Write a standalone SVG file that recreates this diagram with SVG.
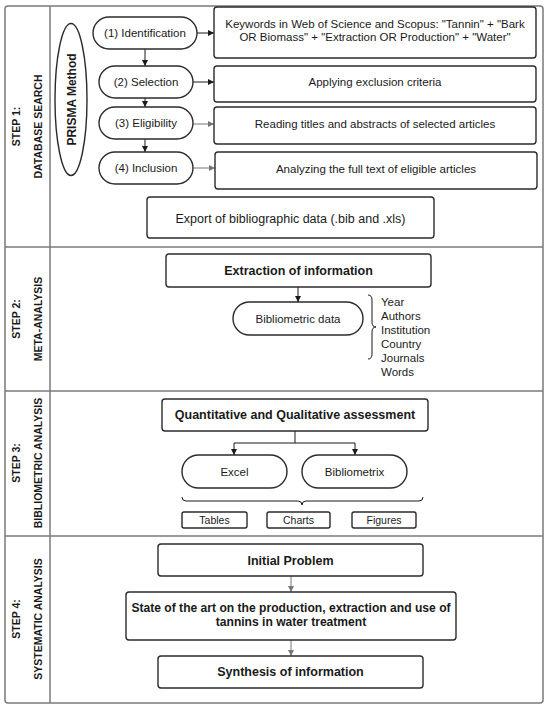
<svg xmlns="http://www.w3.org/2000/svg" width="550" height="710" viewBox="0 0 550 710">
<defs>
<style>
.frame{fill:none;stroke:#7a7a7a;stroke-width:1.5}
.box{fill:#fff;stroke:#2b2b2b;stroke-width:1.4}
.t{font-family:"Liberation Sans",Arial,sans-serif;font-size:11.5px;fill:#1a1a1a;text-anchor:middle}
.tl{font-family:"Liberation Sans",Arial,sans-serif;font-size:11.5px;fill:#1a1a1a}
.tb{font-family:"Liberation Sans",Arial,sans-serif;font-size:12.5px;font-weight:bold;fill:#1a1a1a;text-anchor:middle}
.ts{font-family:"Liberation Sans",Arial,sans-serif;font-size:10.5px;fill:#1a1a1a;text-anchor:middle}
.lab{font-family:"Liberation Sans",Arial,sans-serif;font-size:10.5px;font-weight:bold;fill:#1a1a1a;text-anchor:middle}
.c{fill:none;stroke:#1a1a1a;stroke-width:1}
.g{fill:none;stroke:#777;stroke-width:1}
</style>
<marker id="ab" markerWidth="6" markerHeight="6" refX="6" refY="3" orient="auto" markerUnits="userSpaceOnUse"><path d="M0,0 L6,3 L0,6 Z" fill="#1a1a1a"/></marker>
<marker id="ag" markerWidth="6" markerHeight="6" refX="6" refY="3" orient="auto" markerUnits="userSpaceOnUse"><path d="M0,0 L6,3 L0,6 Z" fill="#777"/></marker>
</defs>
<rect width="550" height="710" fill="#fff"/>
<g id="frame">
<rect class="frame" x="5" y="6" width="538" height="697" rx="3"/>
<line class="frame" x1="50" y1="6" x2="50" y2="703"/>
<line class="frame" x1="5" y1="247" x2="543" y2="247"/>
<line class="frame" x1="5" y1="391" x2="543" y2="391"/>
<line class="frame" x1="5" y1="536" x2="543" y2="536"/>
</g>
<g id="labels">
<text class="lab" transform="translate(20,126.5) rotate(-90)">STEP 1:</text>
<text class="lab" transform="translate(42,126.5) rotate(-90)">DATABASE SEARCH</text>
<text class="lab" transform="translate(20,319) rotate(-90)">STEP 2:</text>
<text class="lab" transform="translate(42,319) rotate(-90)">META-ANALYSIS</text>
<text class="lab" transform="translate(20,463) rotate(-90)">STEP 3:</text>
<text class="lab" transform="translate(42,463) rotate(-90)">BIBLIOMETRIC ANALYSIS</text>
<text class="lab" transform="translate(20,619) rotate(-90)">STEP 4:</text>
<text class="lab" transform="translate(42,619) rotate(-90)">SYSTEMATIC ANALYSIS</text>
</g>
<g id="connectors">
<path class="c" d="M145,49 V66" marker-end="url(#ab)"/>
<path class="c" d="M145,98 V107" marker-end="url(#ab)"/>
<path class="c" d="M145,139 V152" marker-end="url(#ab)"/>
<path class="c" d="M197,33 H214" marker-end="url(#ab)"/>
<path class="c" d="M193,82 H214" marker-end="url(#ab)"/>
<path class="g" d="M193,124 H214" marker-end="url(#ag)"/>
<path class="g" d="M193,168 H215" marker-end="url(#ag)"/>
<path class="c" d="M298,287 V302" marker-end="url(#ab)"/>
<path class="c" d="M295,431 V443 M234,443 H355"/>
<path class="c" d="M234,443 V455" marker-end="url(#ab)"/>
<path class="c" d="M355,443 V455" marker-end="url(#ab)"/>
<path class="g" d="M291,576 V592" marker-end="url(#ag)"/>
<path class="g" d="M291,640 V656" marker-end="url(#ag)"/>
<path class="c" d="M368,295 Q372,295 372,300 L372,322 Q372,327 376,327 Q372,327 372,332 L372,354 Q372,359 368,359"/>
<path class="c" d="M182,497 Q182,501 186,501 L298,501 Q302,501 302,505 Q302,501 306,501 L419,501 Q423,501 423,497"/>
</g>
<g id="prisma">
<ellipse class="box" cx="71" cy="99.5" rx="16" ry="76"/>
<text class="tb" transform="translate(75.5,99.5) rotate(-90)" style="font-size:12px">PRISMA Method</text>
</g>
<g id="identification">
<rect class="box" x="93" y="17" width="104" height="32" rx="16"/>
<text class="t" x="145" y="37">(1) Identification</text>
</g>
<g id="selection">
<rect class="box" x="99" y="66" width="94" height="32" rx="16"/>
<text class="t" x="146" y="86">(2) Selection</text>
</g>
<g id="eligibility">
<rect class="box" x="99" y="107" width="94" height="32" rx="16"/>
<text class="t" x="146" y="127">(3) Eligibility</text>
</g>
<g id="inclusion">
<rect class="box" x="99" y="152" width="94" height="32" rx="16"/>
<text class="t" x="146" y="172">(4) Inclusion</text>
</g>
<g id="keywords">
<rect class="box" x="214" y="7" width="322" height="51" rx="3"/>
<text class="t" x="375" y="28">Keywords in Web of Science and Scopus: "Tannin" + "Bark</text>
<text class="t" x="375" y="41">OR Biomass" + "Extraction OR Production" + "Water"</text>
</g>
<g id="exclusion">
<rect class="box" x="214" y="66" width="322" height="36" rx="3"/>
<text class="t" x="375" y="86">Applying exclusion criteria</text>
</g>
<g id="reading">
<rect class="box" x="214" y="107" width="322" height="37" rx="3"/>
<text class="t" x="375" y="128">Reading titles and abstracts of selected articles</text>
</g>
<g id="analyzing">
<rect class="box" x="215" y="152" width="322" height="37" rx="3"/>
<text class="t" x="376" y="173">Analyzing the full text of eligible articles</text>
</g>
<g id="export">
<rect class="box" x="147" y="197" width="287" height="41" rx="3"/>
<text class="t" x="290.5" y="222.5" style="font-size:12.5px">Export of bibliographic data (.bib and .xls)</text>
</g>
<g id="extraction">
<rect class="box" x="166" y="254" width="265" height="33" rx="3"/>
<text class="tb" x="298.5" y="275">Extraction of information</text>
</g>
<g id="bibdata">
<rect class="box" x="233" y="302" width="130" height="33" rx="16.5"/>
<text class="t" x="298" y="322.5">Bibliometric data</text>
</g>
<g id="list">
<text class="tl" x="381" y="306">Year</text>
<text class="tl" x="381" y="320">Authors</text>
<text class="tl" x="381" y="334">Institution</text>
<text class="tl" x="381" y="348">Country</text>
<text class="tl" x="381" y="362">Journals</text>
<text class="tl" x="381" y="376">Words</text>
</g>
<g id="quant">
<rect class="box" x="162" y="399" width="266" height="32" rx="3"/>
<text class="tb" x="295" y="419">Quantitative and Qualitative assessment</text>
</g>
<g id="excel">
<rect class="box" x="182" y="455" width="105" height="33" rx="16.5"/>
<text class="t" x="234.5" y="475.5">Excel</text>
</g>
<g id="bibliometrix">
<rect class="box" x="302" y="455" width="105" height="33" rx="16.5"/>
<text class="t" x="354.5" y="475.5">Bibliometrix</text>
</g>
<g id="tables">
<rect class="box" x="182" y="512" width="65" height="16" rx="2"/>
<text class="ts" x="214.5" y="524">Tables</text>
</g>
<g id="charts">
<rect class="box" x="267" y="512" width="63" height="16" rx="2"/>
<text class="ts" x="298.5" y="524">Charts</text>
</g>
<g id="figures">
<rect class="box" x="352" y="512" width="64" height="16" rx="2"/>
<text class="ts" x="384" y="524">Figures</text>
</g>
<g id="initial">
<rect class="box" x="158" y="544" width="265" height="32" rx="3"/>
<text class="tb" x="290.5" y="564.5">Initial Problem</text>
</g>
<g id="state">
<rect class="box" x="126" y="592" width="330" height="48" rx="3"/>
<text class="tb" x="291" y="611.5" style="font-size:12.1px">State of the art on the production, extraction and use of</text>
<text class="tb" x="291" y="625.5" style="font-size:12.1px">tannins in water treatment</text>
</g>
<g id="synthesis">
<rect class="box" x="158" y="656" width="265" height="32" rx="3"/>
<text class="tb" x="290.5" y="676">Synthesis of information</text>
</g>
</svg>
